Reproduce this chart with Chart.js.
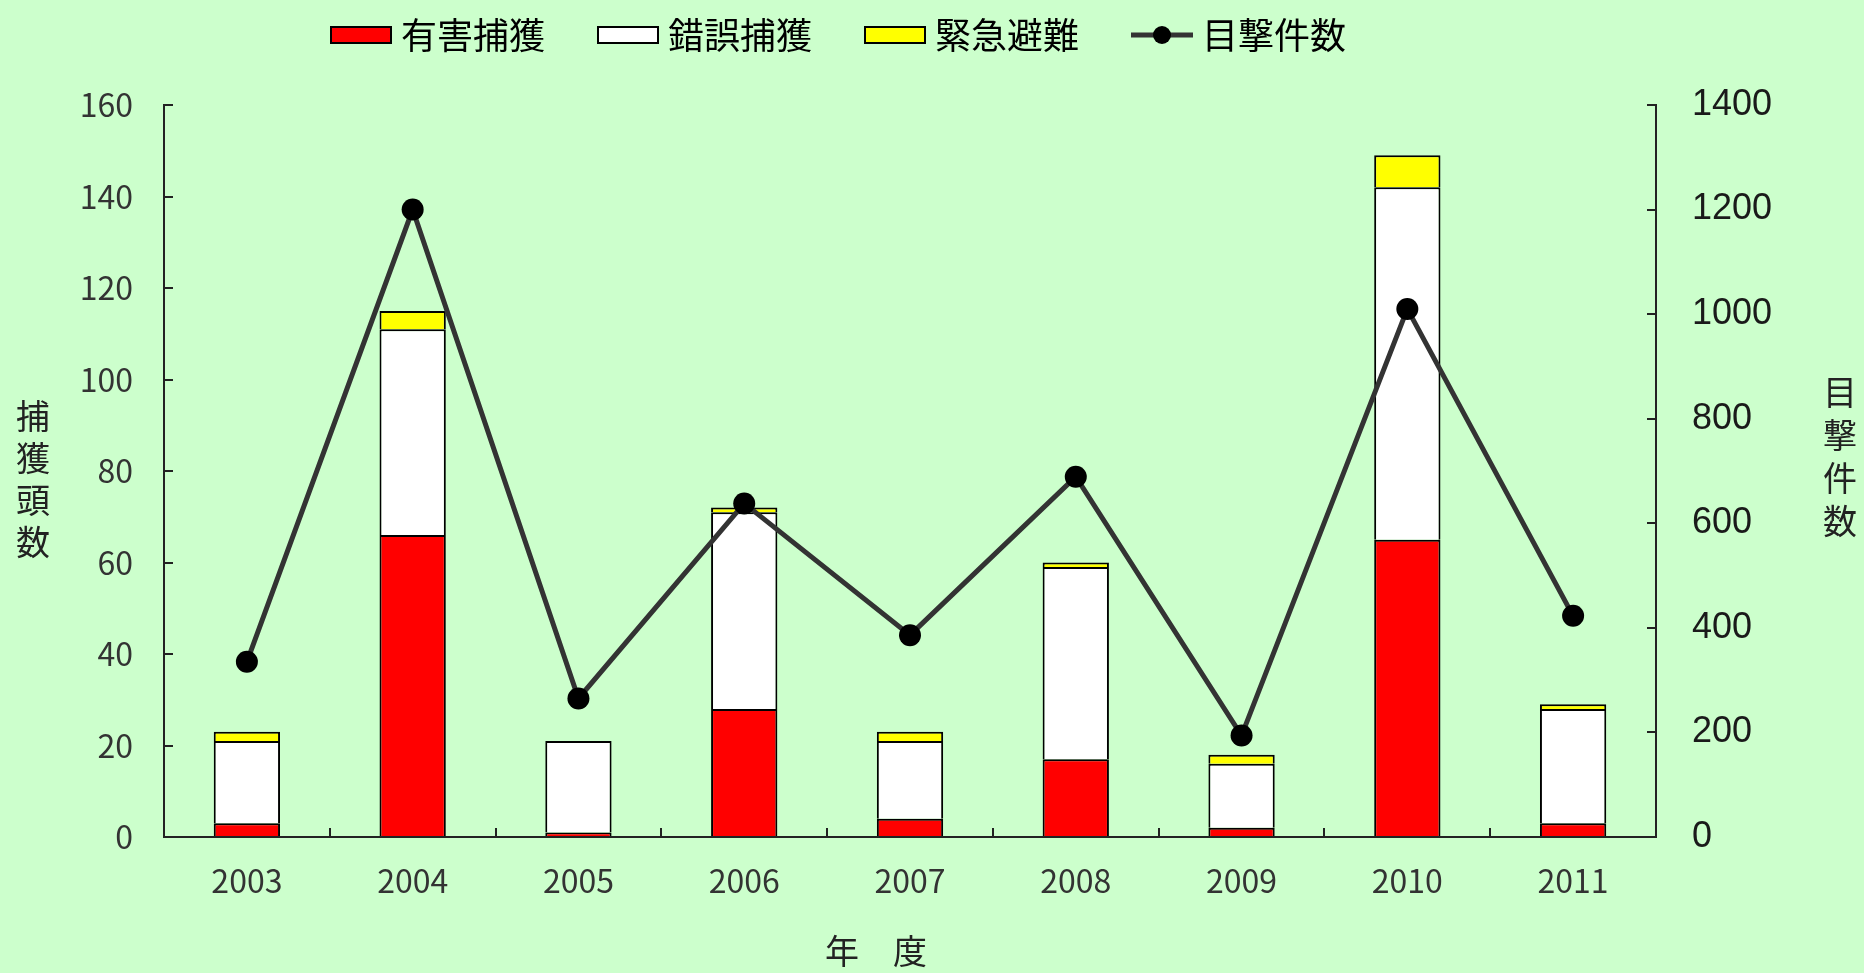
<!DOCTYPE html>
<html lang="ja">
<head>
<meta charset="utf-8">
<title>捕獲頭数と目撃件数</title>
<script src="https://cdn.jsdelivr.net/npm/chart.js@4/dist/chart.umd.min.js"></script>
<style>
  html, body { margin: 0; padding: 0; background: #ccffcc; overflow: hidden; }
  #wrap { width: 1864px; height: 973px; position: relative; }
</style>
</head>
<body>
<div id="wrap"><canvas id="captureChart"></canvas></div>
<script>
// 年度別の捕獲頭数（積み上げ棒）と目撃件数（折れ線）
const years = ['2003', '2004', '2005', '2006', '2007', '2008', '2009', '2010', '2011'];
const harmfulCapture = [3, 66, 1, 28, 4, 17, 2, 65, 3];     // 有害捕獲
const mistakenCapture = [18, 45, 20, 43, 17, 42, 14, 77, 25]; // 錯誤捕獲
const emergencyEscape = [2, 4, 0, 1, 2, 1, 2, 7, 1];        // 緊急避難
const sightings = [335, 1200, 265, 638, 386, 689, 194, 1010, 423]; // 目撃件数

const leftTitle = ['捕', '獲', '頭', '数'];
const rightTitle = ['目', '撃', '件', '数'];
const xTitle = '年\u3000度';

const JP = '"Noto Sans CJK JP", "Noto Sans", sans-serif';
Chart.defaults.font.family = JP;

// legend symbols: boxes for the bars, line with a dot for the sightings
function legendIcon(draw) {
  const c = document.createElement('canvas');
  c.width = 62; c.height = 20;
  draw(c.getContext('2d'));
  return c;
}
const boxIcon = fill => legendIcon(g => {
  g.fillStyle = fill; g.fillRect(1, 2, 60, 16);
  g.strokeStyle = '#000'; g.lineWidth = 2; g.strokeRect(1, 2, 60, 16);
});
const lineIcon = legendIcon(g => {
  g.strokeStyle = '#333'; g.lineWidth = 5;
  g.beginPath(); g.moveTo(0, 10); g.lineTo(62, 10); g.stroke();
  g.fillStyle = '#000';
  g.beginPath(); g.arc(31, 10, 9, 0, Math.PI * 2); g.fill();
});
const legendIcons = [boxIcon('#ff0000'), boxIcon('#ffffff'), boxIcon('#ffff00'), lineIcon];

// move the legend to its spot above the plot
const legendPlacement = {
  id: 'legendPlacement',
  afterLayout(chart) {
    const lg = chart.legend;
    const pad = lg.options.labels.padding;
    const w = lg.right - lg.left, h = lg.bottom - lg.top;
    lg.left = 339 - pad; lg.right = lg.left + w;
    lg.top = 17 - pad; lg.bottom = lg.top + h;
  }
};

// vertical (stacked-character) axis titles and the year title
const axisTitles = {
  id: 'axisTitles',
  afterDraw(chart) {
    const { ctx, chartArea } = chart;
    const mid = (chartArea.top + chartArea.bottom) / 2;
    ctx.save();
    ctx.font = '34px ' + JP;
    ctx.fillStyle = '#222';
    ctx.textAlign = 'center';
    ctx.textBaseline = 'middle';
    leftTitle.forEach((ch, i) => ctx.fillText(ch, 33, mid - 55 + i * 42));
    rightTitle.forEach((ch, i) => ctx.fillText(ch, 1840, mid - 79 + i * 43));
    ctx.fillText(xTitle, (chartArea.left + chartArea.right) / 2 - 34, 951);
    ctx.restore();
  }
};

const barStyle = { borderColor: '#000', borderWidth: 2, yAxisID: 'y', order: 1, barPercentage: 0.4, categoryPercentage: 1 };

new Chart(document.getElementById('captureChart'), {
  data: {
    labels: years,
    datasets: [
      { type: 'bar', label: '有害捕獲', data: harmfulCapture, backgroundColor: '#ff0000', ...barStyle },
      { type: 'bar', label: '錯誤捕獲', data: mistakenCapture, backgroundColor: '#ffffff', ...barStyle },
      { type: 'bar', label: '緊急避難', data: emergencyEscape, backgroundColor: '#ffff00', ...barStyle },
      {
        type: 'line', label: '目撃件数', data: sightings, yAxisID: 'y1', order: 0,
        borderColor: '#333', borderWidth: 5, tension: 0,
        pointRadius: 11, pointBackgroundColor: '#000', pointBorderWidth: 0
      }
    ]
  },
  options: {
    responsive: true,
    maintainAspectRatio: false,
    animation: false,
    layout: { padding: { top: -2, left: 0, right: 0, bottom: 0 } },
    plugins: {
      tooltip: { enabled: false },
      legend: {
        position: 'top',
        align: 'start',
        labels: {
          usePointStyle: true,
          pointStyleWidth: 44,
          boxHeight: 18,
          padding: 61,
          color: '#000',
          font: { size: 36, family: JP },
          generateLabels: chart => chart.data.datasets.map((ds, i) => ({
            text: ds.label, pointStyle: legendIcons[i], datasetIndex: i,
            fillStyle: ds.backgroundColor, strokeStyle: '#000', lineWidth: 0, hidden: false
          }))
        }
      }
    },
    scales: {
      x: {
        stacked: true,
        grid: { drawOnChartArea: false, offset: true, tickLength: -9, color: '#222', lineWidth: 2 },
        border: { color: '#222', width: 2 },
        ticks: { color: '#333', padding: 34, font: { size: 32, family: JP } },
        afterFit(scale) { scale.height = 136; }
      },
      y: {
        position: 'left',
        stacked: true,
        min: 0, max: 160,
        grid: { drawOnChartArea: false, tickLength: -9, color: '#222', lineWidth: 2 },
        border: { color: '#222', width: 2 },
        ticks: { stepSize: 20, color: '#333', padding: 40, font: { size: 32, family: JP } },
        afterFit(scale) { scale.width = 164; }
      },
      y1: {
        position: 'right',
        min: 0, max: 1400,
        grid: { drawOnChartArea: false, tickLength: -9, color: '#222', lineWidth: 2 },
        border: { color: '#222', width: 2 },
        ticks: {
          stepSize: 200, color: '#1a1a1a', padding: 45,
          font: { size: 36, family: '"Liberation Sans", Arial, sans-serif' },
          callback: v => String(v)
        },
        afterFit(scale) { scale.width = 208; }
      }
    }
  },
  plugins: [legendPlacement, axisTitles]
});
</script>
</body>
</html>
